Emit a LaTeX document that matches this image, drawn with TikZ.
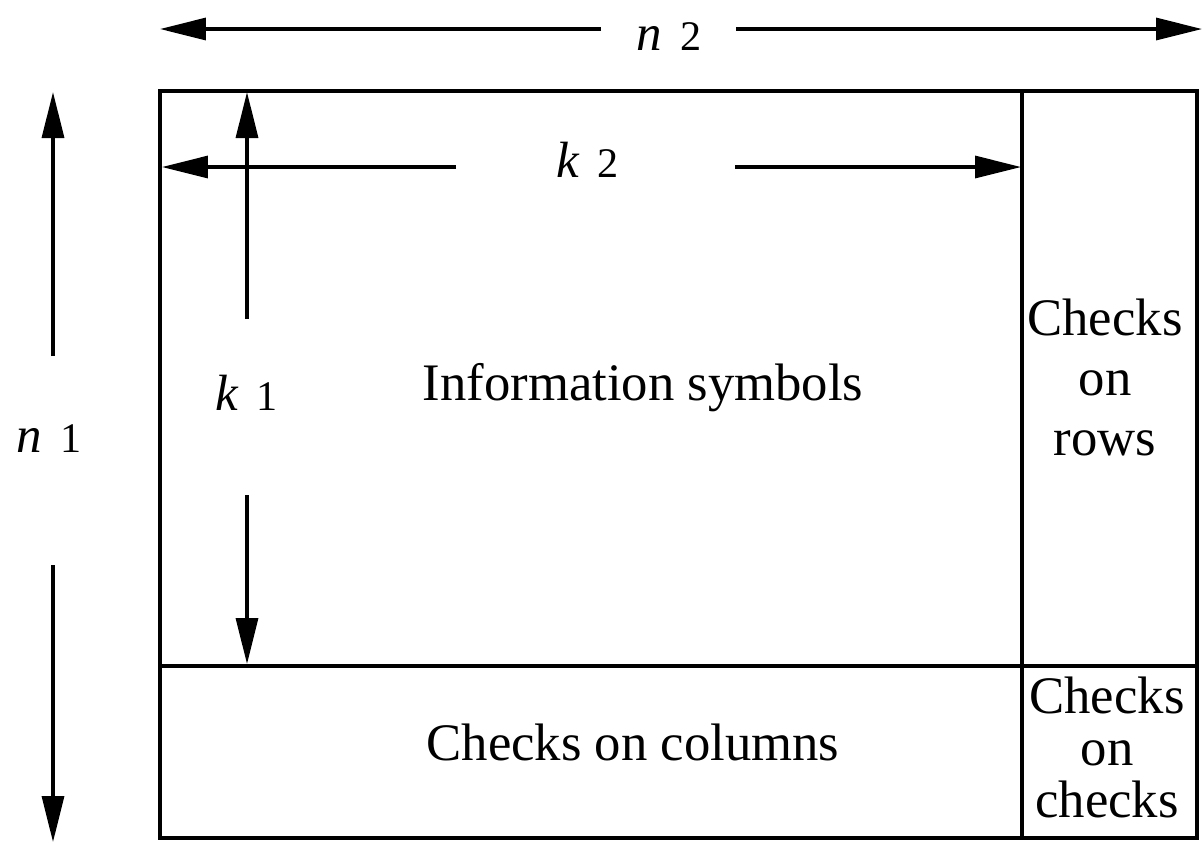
\documentclass[tikz,border=0pt]{standalone}
\usepackage{fontspec}
\setmainfont{Liberation Serif}
\usetikzlibrary{arrows.meta,positioning}
\newcommand{\dimlbl}[2]{{\fontsize{29}{30}\selectfont\itshape #1}\hspace{0.38cm}{\fontsize{24}{25}\selectfont #2}}
\tikzset{
  frame/.style={line width=2.4pt},
  dimarrow/.style={line width=1.8pt,-{Triangle[length=0.92cm,width=0.44cm]}},
  boxtext/.style={font=\fontsize{30}{34}\selectfont,align=center,inner sep=0pt,anchor=base},
  dimtext/.style={inner sep=0pt,anchor=base west}
}
\begin{document}
\begin{tikzpicture}[x=0.02cm,y=-0.02cm]
  \useasboundingbox (0,0) rectangle (1202,843);
  % block frame
  \coordinate (tl) at (160,91);
  \coordinate (br) at (1197,838);
  \draw[frame] (tl) rectangle (br);
  \draw[frame] (1022,91) -- (1022,838);
  \draw[frame] (160,666) -- (1197,666);
  % texts in the blocks (base = last line)
  \node[boxtext] (info) at (643,400) {Information symbols};
  \node[boxtext] (rows) at (1105,455) {Checks\\on\\rows};
  \node[boxtext] (cols) at (633,760) {Checks on columns};
  \node[boxtext,font=\fontsize{30}{29.5}\selectfont] (chk) at (1107,817) {Checks\\on\\checks};
  % n2
  \node[dimtext] (n2) at (636,50) {\dimlbl{n}{2}};
  \coordinate (n2a) at (601,29);
  \coordinate (n2b) at (736,29);
  \draw[dimarrow] (n2a) -- (160,29);
  \draw[dimarrow] (n2b) -- (1202,29);
  % k2
  \node[dimtext] (k2) at (556,177) {\dimlbl{k}{2}};
  \coordinate (k2a) at (456,167);
  \coordinate (k2b) at (735,167);
  \draw[dimarrow] (k2a) -- (162,167);
  \draw[dimarrow] (k2b) -- (1021,167);
  % n1
  \node[dimtext] (n1) at (16,452) {\dimlbl{n}{1}};
  \coordinate (n1a) at (53,356);
  \coordinate (n1b) at (53,565);
  \draw[dimarrow] (n1a) -- (53,92);
  \draw[dimarrow] (n1b) -- (53,842);
  % k1
  \node[dimtext] (k1) at (215,410) {\dimlbl{k}{1}};
  \coordinate (k1a) at (247,319);
  \coordinate (k1b) at (247,495);
  \draw[dimarrow] (k1a) -- (247,92);
  \draw[dimarrow] (k1b) -- (247,664);
\end{tikzpicture}
\end{document}
